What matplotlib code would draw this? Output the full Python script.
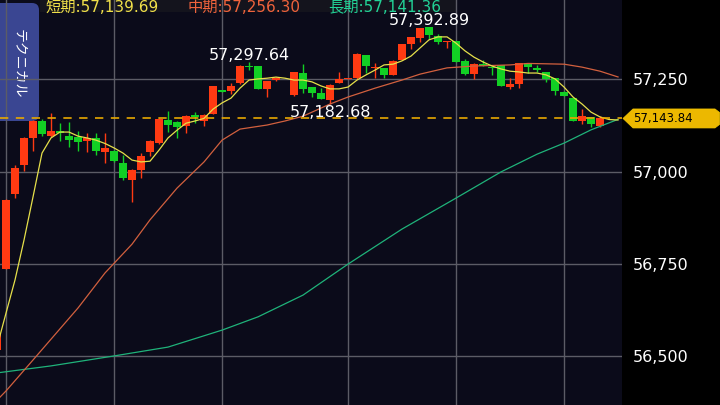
import numpy as np
import matplotlib
matplotlib.use("Agg")
import matplotlib.pyplot as plt
from matplotlib.patches import Polygon, FancyBboxPatch, Rectangle
from matplotlib.transforms import IdentityTransform

# ---------------- data ----------------
candle_idx = list(range(-1, 67))
opens = [56516, 56736, 56939, 57018, 57091, 57137, 57096, 57110, 57096, 57094,
         57083, 57091, 57053, 57056, 57023, 56977, 57004, 57053, 57077, 57140,
         57134, 57123, 57151, 57137, 57156, 57221, 57218, 57240, 57286, 57286,
         57224, 57248, np.nan, 57207, 57267, 57229, 57213, 57194, 57240, 57251,
         57253, 57316, 57281, 57281, 57262, 57302, 57346, 57362, 57392, 57367,
         57351, 57354, 57300, 57264, 57291, 57283, 57289, 57229, 57237, 57294,
         57281, 57270, 57253, 57216, 57199, 57137, 57148, 57123]
highs = [56570, 56925, 57018, 57094, 57140, 57142, 57159, 57131, 57134, 57110,
         57104, 57104, 57104, 57058, 57045, 57007, 57050, 57085, 57145, 57164,
         57137, 57153, 57161, 57156, 57233, 57222, 57240, 57289, 57297.64, 57287,
         57246, 57256, np.nan, 57271, 57291, 57230, 57226, 57236, 57270, 57254,
         57320, 57317, 57294, 57282, 57302, 57347, 57366, 57390, 57392.89, 57373,
         57355, 57355, 57305, 57294, 57302, 57286, 57290, 57253, 57295, 57295,
         57289, 57271, 57254, 57217, 57200, 57169, 57149, 57150]
lows = [56511, 56735, 56928, 57001, 57056, 57096, 57094, 57083, 57066, 57056,
        57053, 57045, 57023, 57027, 56977, 56917, 56982, 57042, 57075, 57107,
        57091, 57104, 57131, 57123, 57155, 57215, 57210, 57237, 57275, 57223,
        57202, 57245, np.nan, 57206, 57213, 57202, 57196, 57182.68, 57239, 57250,
        57252, 57267, 57253, 57253, 57261, 57301, 57332, 57351, 57359, 57346,
        57335, 57296, 57263, 57251, 57285, 57262, 57231, 57224, 57226, 57267,
        57270, 57243, 57207, 57204, 57136, 57129, 57121, 57122]
closes = [56562, 56923, 57009, 57091, 57137, 57102, 57110, 57104, 57085, 57080,
          57091, 57056, 57064, 57028, 56982, 57004, 57042, 57083, 57142, 57126,
          57121, 57150, 57149, 57153, 57232, 57216, 57232, 57286, 57283, 57224,
          57245, 57253, np.nan, 57270, 57224, 57213, 57197, 57235, 57251, 57253,
          57319, 57286, 57283, 57262, 57300, 57346, 57365, 57389, 57370, 57351,
          57354, 57297, 57264, 57291, 57286, 57281, 57232, 57237, 57294, 57283,
          57275, 57251, 57218, 57205, 57137, 57150, 57129, 57143.84]

short_idx = list(range(-1, 69))
short_ma = [56525, 56616, 56706, 56814, 56931, 57050, 57091, 57107, 57107, 57096,
            57091, 57085, 57076, 57064, 57050, 57031, 57026, 57028, 57058, 57091,
            57112, 57131, 57137, 57144, 57169, 57186, 57199, 57226, 57248, 57251,
            57253, 57256, 57253, 57248, 57248, 57243, 57232, 57224, 57224, 57229,
            57248, 57262, 57275, 57289, 57291, 57300, 57313, 57335, 57357, 57365,
            57365, 57348, 57327, 57310, 57297, 57286, 57278, 57272, 57270, 57267,
            57267, 57262, 57251, 57229, 57202, 57183, 57161, 57148, 57141, 57139.69]

mid_idx = [-1, 0, 3, 8, 11, 14, 16, 19, 22, 24, 26, 29, 31, 33, 36, 38, 41, 44,
           46, 49, 52, 56, 58, 62, 64, 66, 68]
mid_ma = [56380, 56405, 56489, 56630, 56725, 56803, 56869, 56955, 57026, 57085,
          57115, 57126, 57137, 57150, 57183, 57202, 57226, 57248, 57264, 57281,
          57286, 57289, 57293, 57291, 57283, 57272, 57256.30]

long_idx = [-1, 5, 12, 18, 24, 28, 33, 38, 44, 50, 55, 59, 62, 65, 68]
long_ma = [56454, 56473, 56500, 56524, 56570, 56606, 56665, 56749, 56844, 56928,
           56999, 57047, 57077, 57113, 57141.36]

price_ticks = [56500, 56750, 57000, 57250]
price_tick_labels = ["56,500", "56,750", "57,000", "57,250"]
session_lines = [0, 12, 24, 38, 50, 62]

current_price = 57143.84
legend_items = [("短期:57,139.69", "#f0e04a", 46),
                ("中期:57,256.30", "#ef633c", 188),
                ("長期:57,141.36", "#22d296", 328)]
marks = [(27, 57297.64, "57,297.64", "high"),
         (47, 57392.89, "57,392.89", "high"),
         (36, 57182.68, "57,182.68", "low")]

# ---------------- figure ----------------
W, H = 720, 405
fig = plt.figure(figsize=(W / 100, H / 100), dpi=100, facecolor="black")
ax = fig.add_axes([0, 0, 622 / W, 1])
ax.set_facecolor("#0b0b1a")
ax.set_xlim(-2 / 3, 68.44)
ax.set_ylim(56367, 57465)
for s in ax.spines.values():
    s.set_visible(False)

ax.set_axisbelow(True)
ax.yaxis.tick_right()
ax.set_yticks(price_ticks)
ax.set_yticklabels(price_tick_labels)
ax.tick_params(axis="y", length=0, pad=8, labelsize=11.5, labelcolor="white")
ax.set_xticks(session_lines)
ax.tick_params(axis="x", length=0, labelbottom=False)
ax.grid(True, color="#5c5c66", lw=1)

# left tab
ax.add_patch(FancyBboxPatch((-12, H - 121), 51, 118,
                            boxstyle="round,pad=0,rounding_size=7",
                            transform=IdentityTransform(), fc="#3a4692",
                            ec="none", zorder=0.3, clip_on=False))
ax.text(19, H - 64, "テクニカル", transform=IdentityTransform(), rotation=-90,
        ha="center", va="center", color="white", fontsize=10,
        family=["Noto Sans CJK JP", "DejaVu Sans"], zorder=0.35)

# legend band
ax.add_patch(Rectangle((40, H - 12), 417, 14, transform=IdentityTransform(),
                       fc="#14141d", ec="none", zorder=0.3, clip_on=False))

# candles
up_col, dn_col = "#ff3a12", "#12d024"
for i, o, h, l, c in zip(candle_idx, opens, highs, lows, closes):
    if np.isnan(o):
        continue
    col = up_col if c >= o else dn_col
    ax.vlines(i, l, h, color=col, lw=1, zorder=2.5)
    ax.bar(i, max(abs(c - o), 3), bottom=min(o, c), width=0.88,
           color=col, lw=0, zorder=3)

# moving averages
ax.plot(long_idx, long_ma, color="#1fb37a", lw=0.9, zorder=4)
ax.plot(mid_idx, mid_ma, color="#d2603e", lw=0.9, zorder=4)
ax.plot(short_idx, short_ma, color="#e6e04a", lw=0.9, zorder=4.5)

# current price dashed line
ax.axhline(current_price, color="#e8a800", lw=1.2, dashes=(5, 4.5), zorder=5)

# high/low marks
for i, v, t, kind in marks:
    dy = 1 if kind == "high" else -9
    ax.annotate(t, xy=(i, v), xytext=(0, dy), textcoords="offset points",
                ha="center", va="baseline", color="white", fontsize=11.5,
                zorder=6)

# legend texts
for t, col, x0 in legend_items:
    ax.text(x0, H - 7, t, transform=IdentityTransform(), ha="left",
            va="center", color=col, fontsize=11,
            family=["DejaVu Sans", "Noto Sans CJK JP"], zorder=6)

# price tag
yd = ax.transData.transform((0, current_price))[1]
tag = Polygon([(623, yd), (633, yd + 9.5), (715, yd + 9.5), (719.5, yd + 6),
               (719.5, yd - 6), (715, yd - 9.5), (633, yd - 9.5)],
              closed=True, transform=IdentityTransform(), fc="#ecb800",
              ec="#f5c800", lw=0.5, zorder=10)
fig.add_artist(tag)
fig.text(633, yd, f"{current_price:,.2f}", transform=IdentityTransform(),
         ha="left", va="center", color="black", fontsize=8.5, zorder=11)

fig.savefig("out.png", dpi=100, facecolor="black")
